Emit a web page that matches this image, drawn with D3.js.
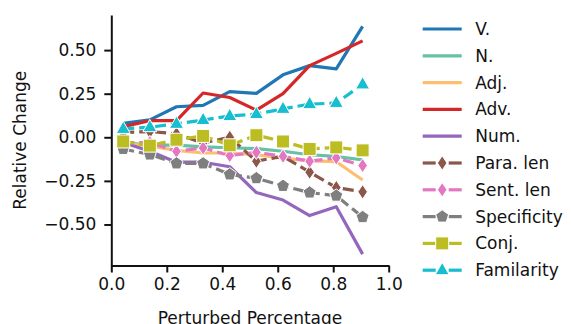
<!DOCTYPE html>
<html>
<head>
<meta charset="utf-8">
<script src="https://cdn.jsdelivr.net/npm/d3@7"></script>
<style>
  body { margin: 0; background: #fff; }
  text { font-family: "DejaVu Sans", sans-serif; }
</style>
</head>
<body>
<svg id="chart" width="571" height="324"></svg>
<script>
// data
const percent = [0.043, 0.139, 0.235, 0.331, 0.427, 0.523, 0.619, 0.715, 0.811, 0.906];
const verbs = [0.08, 0.10, 0.175, 0.183, 0.262, 0.252, 0.358, 0.411, 0.392, 0.636];
const nouns = [-0.03, -0.045, -0.045, -0.055, -0.06, -0.065, -0.08, -0.10, -0.11, -0.13];
const adjs = [-0.035, -0.05, -0.075, -0.09, -0.09, -0.10, -0.12, -0.135, -0.14, -0.245];
const advs = [0.061, 0.095, 0.095, 0.254, 0.228, 0.156, 0.25, 0.411, 0.481, 0.553];
const nums = [-0.03, -0.08, -0.143, -0.143, -0.169, -0.317, -0.36, -0.449, -0.398, -0.67];
const paraLen = [0.027, 0.033, 0.02, -0.033, 0.0, -0.137, -0.109, -0.20, -0.288, -0.313];
const sentLen = [-0.03, -0.03, -0.08, -0.061, -0.105, -0.086, -0.109, -0.137, -0.118, -0.162];
const specificity = [-0.067, -0.099, -0.15, -0.15, -0.213, -0.235, -0.279, -0.317, -0.335, -0.458];
const conj = [-0.024, -0.048, -0.014, 0.008, -0.046, 0.012, -0.024, -0.067, -0.058, -0.075];
const familiarity = [0.048, 0.058, 0.077, 0.099, 0.122, 0.133, 0.163, 0.19, 0.197, 0.303];

const xTicks = [0.0, 0.2, 0.4, 0.6, 0.8, 1.0];
const yTicks = [-0.50, -0.25, 0.00, 0.25, 0.50];

const series = [
  {name: "V.", values: verbs, color: "#1f77b4", marker: null},
  {name: "N.", values: nouns, color: "#66c2a5", marker: null},
  {name: "Adj.", values: adjs, color: "#fdbf6f", marker: null},
  {name: "Adv.", values: advs, color: "#d62728", marker: null},
  {name: "Num.", values: nums, color: "#9467bd", marker: null},
  {name: "Para. len", values: paraLen, color: "#8c564b", marker: "thin_diamond"},
  {name: "Sent. len", values: sentLen, color: "#e377c2", marker: "thin_diamond"},
  {name: "Specificity", values: specificity, color: "#7f7f7f", marker: "pentagon"},
  {name: "Conj.", values: conj, color: "#bcbd22", marker: "square"},
  {name: "Familarity", values: familiarity, color: "#17becf", marker: "triangle"}
];

const svg = d3.select("#chart");
const margin = {left: 111.3, right: 182.3, top: 15, bottom: 58.5};
const dim = {w: 571, h: 324};

const x = d3.scaleLinear().domain([0, 1]).range([margin.left, dim.w - margin.right]);
const allVals = series.flatMap(s => s.values);
const lo = d3.min(allVals), hi = d3.max(allVals);
const pad = (hi - lo) * 0.05;
const y = d3.scaleLinear().domain([lo - pad, hi + pad]).range([dim.h - margin.bottom, margin.top]);

// marker shapes, centred on 0,0
function markerPath(kind) {
  if (kind === "thin_diamond") return "M0,-7.2L4.8,0L0,7.2L-4.8,0Z";
  if (kind === "square") return "M-6.5,-6.5L6.5,-6.5L6.5,6.5L-6.5,6.5Z";
  if (kind === "triangle") return "M0,-7.8L7,4.5L-7,4.5Z";
  if (kind === "pentagon") {
    const r = 6.8;
    return d3.range(5).map(i => {
      const a = -Math.PI / 2 + i * 2 * Math.PI / 5;
      return (i ? "L" : "M") + (r * Math.cos(a)).toFixed(2) + "," + (r * Math.sin(a)).toFixed(2);
    }).join("") + "Z";
  }
  return null;
}

const axisColor = "#111";

// x axis
const xAxis = svg.append("g")
  .attr("transform", `translate(0,${dim.h - margin.bottom})`)
  .call(d3.axisBottom(x).tickValues(xTicks).tickFormat(d3.format(".1f")).tickSizeInner(7).tickSizeOuter(0).tickPadding(5));
xAxis.select(".domain").attr("stroke", axisColor).attr("stroke-width", 2);
xAxis.selectAll(".tick line").attr("stroke", axisColor).attr("stroke-width", 2);
xAxis.selectAll("text").style("font-size", "17px").attr("fill", axisColor);

xAxis.append("text")
  .attr("x", (margin.left + dim.w - margin.right) / 2)
  .attr("y", 58)
  .style("text-anchor", "middle")
  .style("font-size", "17px")
  .attr("fill", axisColor)
  .text("Perturbed Percentage");

// y axis
const yAxis = svg.append("g")
  .attr("transform", `translate(${margin.left},0)`)
  .call(d3.axisLeft(y).tickValues(yTicks).tickFormat(d => d3.format(".2f")(d).replace("-", "\u2212")).tickSizeInner(7).tickSizeOuter(0).tickPadding(8));
yAxis.select(".domain").attr("stroke", axisColor).attr("stroke-width", 2);
yAxis.selectAll(".tick line").attr("stroke", axisColor).attr("stroke-width", 2);
yAxis.selectAll("text").style("font-size", "17px").attr("fill", axisColor);

svg.append("text")
  .attr("transform", `translate(26,${(margin.top + dim.h - margin.bottom) / 2}) rotate(-90)`)
  .style("text-anchor", "middle")
  .style("font-size", "17px")
  .attr("fill", axisColor)
  .text("Relative Change");

// lines and markers
const line = d3.line().x((d, i) => x(percent[i])).y(d => y(d));
const plot = svg.append("g");
series.forEach(s => {
  const g = plot.append("g");
  g.append("path")
    .attr("d", line(s.values))
    .attr("fill", "none")
    .attr("stroke", s.color)
    .attr("stroke-width", 3.2)
    .attr("stroke-linejoin", "round")
    .attr("stroke-dasharray", s.marker ? "11,5" : null);
  if (s.marker) {
    g.selectAll("path.mk")
      .data(s.values)
      .join("path")
      .attr("class", "mk")
      .attr("d", markerPath(s.marker))
      .attr("transform", (d, i) => `translate(${x(percent[i])},${y(d)})`)
      .attr("fill", s.color)
      .attr("stroke", "#fff")
      .attr("stroke-width", 1);
  }
});

// legend
const legend = svg.append("g").attr("transform", "translate(422.7,29)");
series.forEach((s, i) => {
  const row = legend.append("g").attr("transform", `translate(0,${i * 26.8})`);
  if (s.marker) {
    row.append("line").attr("x1", 0).attr("x2", 13).attr("stroke", s.color).attr("stroke-width", 3.2);
    row.append("line").attr("x1", 26).attr("x2", 39).attr("stroke", s.color).attr("stroke-width", 3.2);
    row.append("path")
      .attr("d", markerPath(s.marker))
      .attr("transform", "translate(19.5,0)")
      .attr("fill", s.color)
      .attr("stroke", "#fff")
      .attr("stroke-width", 1);
  } else {
    row.append("line").attr("x1", 0).attr("x2", 39).attr("stroke", s.color).attr("stroke-width", 3.2);
  }
  row.append("text")
    .attr("x", 52.5)
    .attr("dy", "0.35em")
    .style("font-size", "17px")
    .attr("fill", axisColor)
    .text(s.name);
});
</script>
</body>
</html>
